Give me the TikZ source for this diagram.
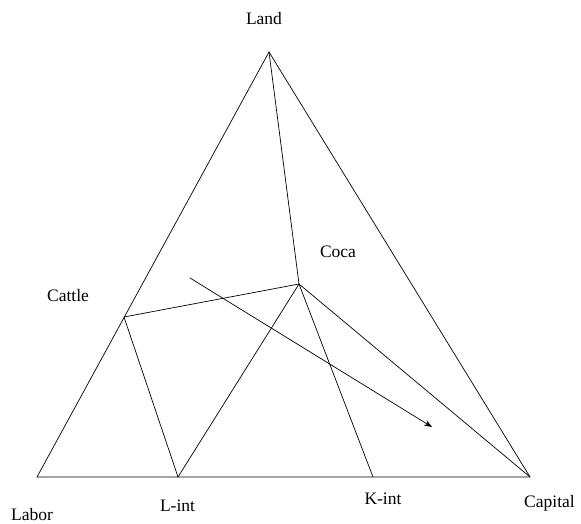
\documentclass[tikz,border=0pt]{standalone}
\usepackage{fontspec}
\setmainfont{Liberation Serif}
\usetikzlibrary{arrows.meta}
\begin{document}
\begin{tikzpicture}[x=1pt,y=-1pt,
  edge/.style={line width=0.7pt,black},
  lbl/.style={font=\fontsize{17.5}{20}\selectfont,inner sep=0pt}]
\useasboundingbox (0,0) rectangle (581,524);
\coordinate (land) at (269,52);
\coordinate (labor) at (37,477);
\coordinate (capital) at (530,477);
\coordinate (lint) at (178,477);
\coordinate (kint) at (373,477);
\coordinate (coca) at (299,284);
\coordinate (cattle) at (124,317);
\coordinate (as) at (190,278);
\coordinate (ae) at (432,427);
\draw[edge] (labor) -- (land) -- (capital) -- cycle;
\draw[edge] (land) -- (coca);
\draw[edge] (coca) -- (cattle);
\draw[edge] (cattle) -- (lint);
\draw[edge] (coca) -- (lint);
\draw[edge] (coca) -- (kint);
\draw[edge] (coca) -- (capital);
\draw[edge,-{Stealth[length=8pt,width=6pt]}] (as) -- (ae);
\node[lbl] (tland) at (264,19) {Land};
\node[lbl] (tcoca) at (338,252) {Coca};
\node[lbl] (tcattle) at (68,296) {Cattle};
\node[lbl] (tlabor) at (32,514.5) {Labor};
\node[lbl] (tlint) at (177.5,506) {L-int};
\node[lbl] (tkint) at (383,498.5) {K-int};
\node[lbl] (tcap) at (549.5,503) {Capital};
\end{tikzpicture}
\end{document}
